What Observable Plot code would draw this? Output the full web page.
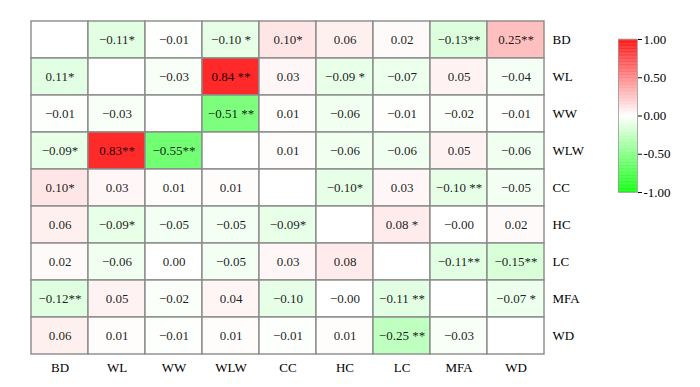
<!DOCTYPE html>
<html><head><meta charset="utf-8">
<script src="https://cdn.jsdelivr.net/npm/d3@7"></script>
<script src="https://cdn.jsdelivr.net/npm/@observablehq/plot@0.6"></script>
<style>
body{margin:0;background:#fff}
#wrap{position:relative;width:700px;height:387px;background:#fff}
#wrap svg{position:absolute}
#wrap svg, #wrap svg text, #wrap svg g{font-family:"Liberation Serif","Times New Roman",serif !important;}
</style>
</head><body><div id="wrap"></div>
<script>
const variables = ["BD","WL","WW","WLW","CC","HC","LC","MFA","WD"];

const values = [
  [null, -0.11, -0.01, -0.10, 0.10, 0.06, 0.02, -0.13, 0.25],
  [0.11, null, -0.03, 0.84, 0.03, -0.09, -0.07, 0.05, -0.04],
  [-0.01, -0.03, null, -0.51, 0.01, -0.06, -0.01, -0.02, -0.01],
  [-0.09, 0.83, -0.55, null, 0.01, -0.06, -0.06, 0.05, -0.06],
  [0.10, 0.03, 0.01, 0.01, null, -0.10, 0.03, -0.10, -0.05],
  [0.06, -0.09, -0.05, -0.05, -0.09, null, 0.08, -0.00, 0.02],
  [0.02, -0.06, 0.00, -0.05, 0.03, 0.08, null, -0.11, -0.15],
  [-0.12, 0.05, -0.02, 0.04, -0.10, -0.00, -0.11, null, -0.07],
  [0.06, 0.01, -0.01, 0.01, -0.01, 0.01, -0.25, -0.03, null]
];

const labels = [
  ["", "−0.11*", "−0.01", "−0.10 *", "0.10*", "0.06", "0.02", "−0.13**", "0.25**"],
  ["0.11*", "", "−0.03", "0.84 **", "0.03", "−0.09 *", "−0.07", "0.05", "−0.04"],
  ["−0.01", "−0.03", "", "−0.51 **", "0.01", "−0.06", "−0.01", "−0.02", "−0.01"],
  ["−0.09*", "0.83**", "−0.55**", "", "0.01", "−0.06", "−0.06", "0.05", "−0.06"],
  ["0.10*", "0.03", "0.01", "0.01", "", "−0.10*", "0.03", "−0.10 **", "−0.05"],
  ["0.06", "−0.09*", "−0.05", "−0.05", "−0.09*", "", "0.08 *", "−0.00", "0.02"],
  ["0.02", "−0.06", "0.00", "−0.05", "0.03", "0.08", "", "−0.11**", "−0.15**"],
  ["−0.12**", "0.05", "−0.02", "0.04", "−0.10", "−0.00", "−0.11 **", "", "−0.07 *"],
  ["0.06", "0.01", "−0.01", "0.01", "−0.01", "0.01", "−0.25 **", "−0.03", ""]
];

// cell whose shading in the picture differs from its printed value
const toneOverrides = [{row: "WL", col: "BD", tone: -0.11}];

const legendTicks = [-1, -0.5, 0, 0.5, 1];

const FONT = "'Liberation Serif', 'Times New Roman', serif";
const colorScale = {type: "linear", domain: [-1, 0, 1], range: ["#00ff00", "#ffffff", "#ff0000"]};

const cells = [];
variables.forEach((r, i) => variables.forEach((c, j) => {
  const v = values[i][j];
  const o = toneOverrides.find(t => t.row === r && t.col === c);
  cells.push({row: r, col: c, value: v, label: labels[i][j], tone: o ? o.tone : (v == null ? 0 : v)});
}));

const main = Plot.plot({
  width: 700, height: 387,
  marginLeft: 27, marginRight: 153, marginTop: 19, marginBottom: 31,
  x: {domain: variables, padding: 0, axis: "bottom", tickSize: 0, tickPadding: 6, label: null},
  y: {domain: variables, padding: 0, axis: "right", tickSize: 0, tickPadding: 5, label: null},
  color: colorScale,
  style: {fontFamily: FONT, fontSize: "13px", background: "transparent", color: "#000"},
  marks: [
    Plot.cell(cells, {x: "col", y: "row", fill: "tone", stroke: "#8a8a8a", strokeWidth: 1.4}),
    Plot.text(cells, {x: "col", y: "row", text: "label", fill: "#000", fillOpacity: 0.9, fontFamily: FONT, fontSize: 13})
  ]
});

const step = 0.01;
const ramp = d3.range(-1, 1, step);
const legend = Plot.plot({
  width: 80, height: 173,
  marginLeft: 0, marginRight: 61, marginTop: 10, marginBottom: 10,
  x: {domain: [0, 1], axis: null},
  y: {domain: [-1, 1], axis: "right", ticks: legendTicks, tickFormat: d => d.toFixed(2), tickSize: 4, tickPadding: 2, label: null},
  color: colorScale,
  style: {fontFamily: FONT, fontSize: "13px", background: "transparent", color: "#000"},
  marks: [
    Plot.rect(ramp, {x1: 0, x2: 1, y1: d => d, y2: d => d + step + 0.002, fill: d => d + step / 2}),
    Plot.frame({stroke: "#9a9a9a", strokeWidth: 0.8})
  ]
});

const wrap = document.getElementById("wrap");
main.style.left = "0px"; main.style.top = "0px";
legend.style.left = "618px"; legend.style.top = "29px";
wrap.appendChild(main);
wrap.appendChild(legend);
</script>
</body></html>
